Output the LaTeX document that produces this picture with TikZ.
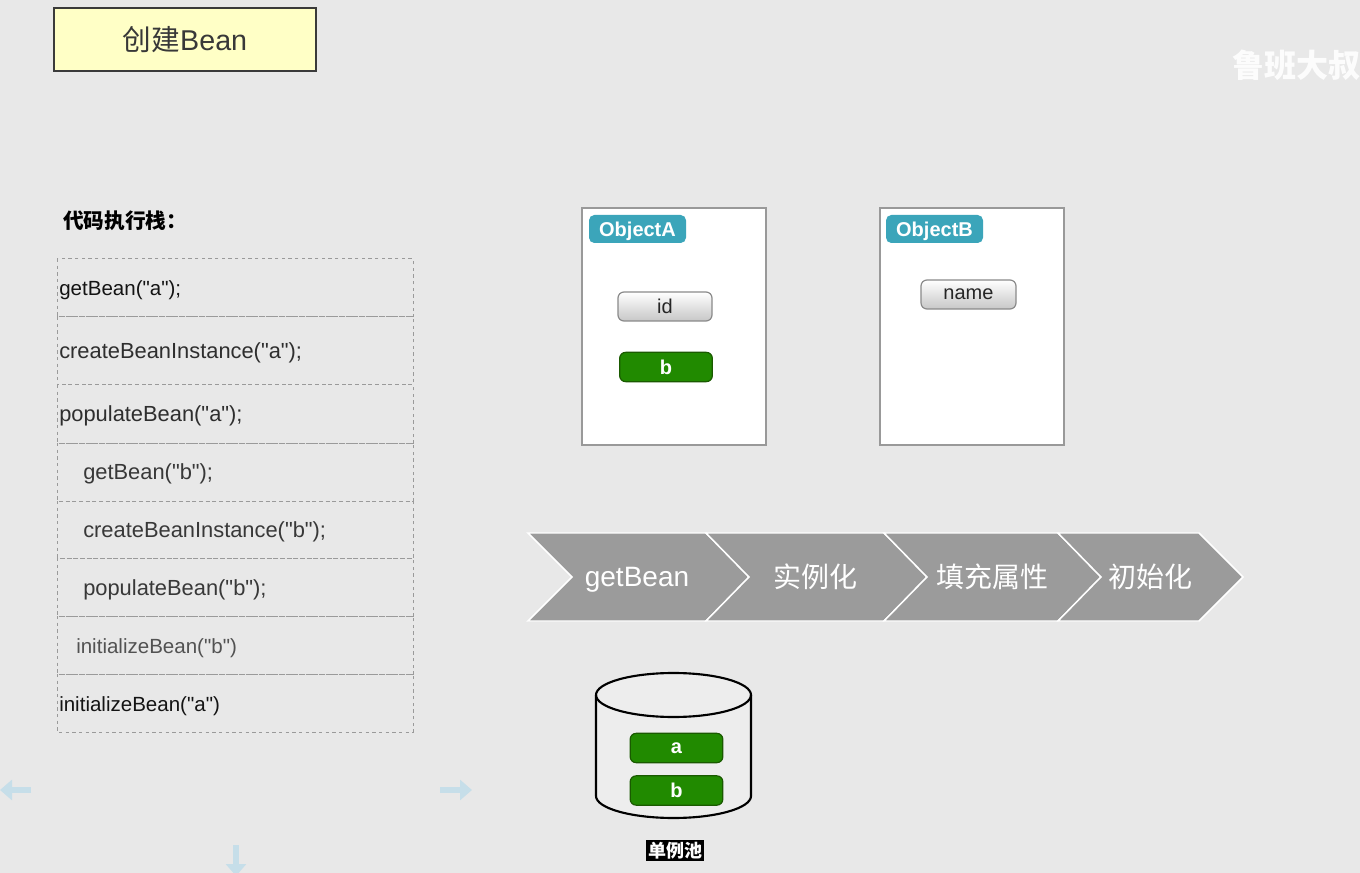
\documentclass[tikz,border=0pt]{standalone}
\usepackage{fontspec}
\setmainfont[Ligatures=TeXOff]{Liberation Sans}
\newfontfamily\cjk{Noto Sans CJK SC}
\usetikzlibrary{arrows.meta}
\definecolor{bg}{HTML}{E8E8E8}
\definecolor{titlefill}{HTML}{FFFFC6}
\definecolor{titleline}{HTML}{3A3A3A}
\definecolor{teal}{HTML}{3BA5BA}
\definecolor{beangreen}{HTML}{218A00}
\definecolor{beangreenline}{HTML}{1A5A00}
\definecolor{chevgray}{HTML}{9B9B9B}
\definecolor{dashgray}{HTML}{9A9A9A}
\definecolor{btnline}{HTML}{8A8A8A}
\definecolor{objline}{HTML}{999999}
\definecolor{faintblue}{HTML}{C6DEE9}
\definecolor{cylfill}{HTML}{EDEDED}
\tikzset{
  codetxt/.style={anchor=west, inner sep=0pt, font=\fontsize{16.4}{19}\selectfont},
  codesmall/.style={font=\fontsize{15.4}{18}\selectfont},
  dashedbox/.style={draw=dashgray, line width=0.75pt, dash pattern=on 2.5pt off 2.5pt},
  objbox/.style={draw=objline, line width=1.1pt, fill=white, minimum width=138pt, minimum height=177.75pt, inner sep=0pt},
  objlabel/.style={fill=teal, rounded corners=4pt, text=white, font=\fontsize{15}{18}\selectfont\bfseries, minimum width=72.75pt, minimum height=21pt, inner sep=0pt, text depth=0pt},
  graybtn/.style={draw=btnline, line width=0.9pt, rounded corners=4.5pt, top color=white, bottom color=black!22, font=\fontsize{15}{18}\selectfont, text=black!85, minimum height=21.75pt, inner sep=0pt, text depth=0pt},
  greenbtn/.style={draw=beangreenline, line width=0.9pt, rounded corners=4.5pt, fill=beangreen, text=white, font=\fontsize{15}{18}\selectfont\bfseries, minimum width=69.5pt, minimum height=22pt, inner sep=0pt},
  chev/.style={fill=chevgray, draw=white, line width=1.1pt, line join=miter},
  chevtxt/.style={text=white, inner sep=0pt, font=\fontsize{21}{24}\selectfont},
  faintarrow/.style={draw=faintblue, line width=4.5pt, -{Triangle[length=9pt, width=15pt]}},
}
\begin{document}
\begin{tikzpicture}[x=0.75pt,y=-0.75pt]
\useasboundingbox (0,0) rectangle (1360,873);
\fill[bg] (0,0) rectangle (1360,873);

% title
\node[draw=titleline, line width=1.1pt, fill=titlefill, minimum width=196.5pt, minimum height=47.25pt, inner sep=0pt, text=black!78, font=\fontsize{21.5}{24}\selectfont] (title) at (185,39.5) {{\cjk 创建}Bean};

% watermark
\node[anchor=west, inner sep=0pt, text=white, opacity=0.9, font=\cjk\bfseries\fontsize{24}{28}\selectfont] (wm) at (1232,65) {鲁班大叔};

% code stack heading
\node[anchor=west, inner sep=0pt, font=\cjk\bfseries\fontsize{15.5}{18}\selectfont] (stackhead) at (63,221) {代码执行栈：};

% stack rows
\draw[dashedbox] (57,259) rectangle (413,317);
\draw[dashedbox] (57,317) rectangle (413,385);
\draw[dashedbox] (57,385) rectangle (413,443);
\draw[dashedbox] (57,443) rectangle (413,501);
\draw[dashedbox] (57,501) rectangle (413,558);
\draw[dashedbox] (57,558) rectangle (413,616);
\draw[dashedbox] (57,616) rectangle (413,674);
\draw[dashedbox] (57,674) rectangle (413,732);

\node[codetxt, codesmall, text=black!92] (s1) at (59,290) {getBean("a");};
\node[codetxt, text=black!82] (s2) at (59,353) {createBeanInstance("a");};
\node[codetxt, text=black!82] (s3) at (59,415.5) {populateBean("a");};
\node[codetxt, text=black!78] (s4) at (83,473.5) {getBean("b");};
\node[codetxt, text=black!78] (s5) at (83,531.5) {createBeanInstance("b");};
\node[codetxt, text=black!78] (s6) at (83,589.5) {populateBean("b");};
\node[codetxt, codesmall, text=black!68] (s7) at (76,648.5) {initializeBean("b")};
\node[codetxt, codesmall, text=black!92] (s8) at (59,706.5) {initializeBean("a")};

% objects
\node[objbox] (objA) at (674,326.5) {};
\node[objlabel] (labA) at (637.5,229) {ObjectA};
\node[graybtn, minimum width=70.5pt] (fid) at (665,306.5) {id};
\node[greenbtn] (fb) at (666,367) {b};

\node[objbox] (objB) at (972,326.5) {};
\node[objlabel] (labB) at (934.5,229) {ObjectB};
\node[graybtn, minimum width=71.25pt] (fname) at (968.5,294.5) {name};

% chevrons
\path[chev] (528,533) -- (706,533) -- (749,577) -- (706,621) -- (528,621) -- (572,577) -- cycle;
\path[chev] (706,533) -- (884,533) -- (927,577) -- (884,621) -- (706,621) -- (749,577) -- cycle;
\path[chev] (884,533) -- (1058,533) -- (1101,577) -- (1058,621) -- (884,621) -- (927,577) -- cycle;
\path[chev] (1058,533) -- (1199,533) -- (1243,577) -- (1199,621) -- (1058,621) -- (1101,577) -- cycle;
\node[chevtxt, text depth=0pt] (c1) at (637,577) {getBean};
\node[chevtxt, font=\cjk\fontsize{21}{24}\selectfont] (c2) at (815,577) {实例化};
\node[chevtxt, font=\cjk\fontsize{21}{24}\selectfont] (c3) at (992,577) {填充属性};
\node[chevtxt, font=\cjk\fontsize{21}{24}\selectfont] (c4) at (1150,577) {初始化};

% singleton pool cylinder
\fill[cylfill] (596,695) -- (596,796) arc[start angle=180, end angle=0, x radius=77.5, y radius=22] -- (751,695) arc[start angle=0, end angle=-180, x radius=77.5, y radius=22] -- cycle;
\draw[line width=1.6pt] (596,695) -- (596,796) arc[start angle=180, end angle=0, x radius=77.5, y radius=22] -- (751,695);
\draw[line width=1.6pt] (673.5,695) ellipse [x radius=77.5, y radius=22];
\node[greenbtn] (pa) at (676.5,748) {a};
\node[greenbtn] (pb) at (676.5,790.5) {b};
\node[fill=black, text=white, inner sep=1.5pt, font=\cjk\bfseries\fontsize{13.5}{15}\selectfont] (pool) at (675,850.5) {单例池};

% faint navigation arrows
\coordinate (la1) at (31,790);
\coordinate (la2) at (0,790);
\coordinate (ra1) at (440,790);
\coordinate (ra2) at (472,790);
\coordinate (da1) at (236,845);
\coordinate (da2) at (236,876);
\draw[faintarrow] (la1) -- (la2);
\draw[faintarrow] (ra1) -- (ra2);
\draw[faintarrow] (da1) -- (da2);
\end{tikzpicture}
\end{document}
